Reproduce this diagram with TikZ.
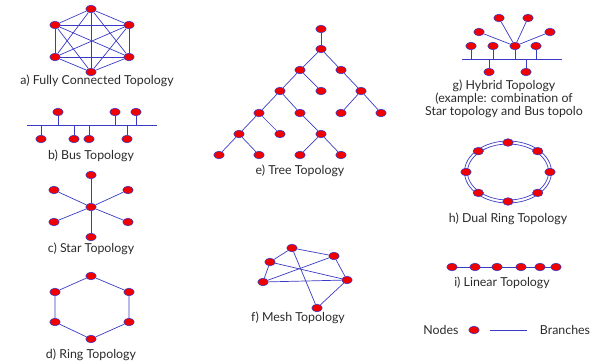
\documentclass[tikz,border=0pt]{standalone}
\usepackage{fontspec}
\setmainfont{Lato}
\usetikzlibrary{positioning,shapes.geometric}
\definecolor{wire}{HTML}{3A3AC4}
\definecolor{dotred}{HTML}{F00000}
\definecolor{txt}{HTML}{2A2A2A}
\tikzset{
  pc/.style     ={ellipse, draw=wire, fill=dotred, line width=0.4pt, inner sep=0pt,
                  minimum width=0.26cm, minimum height=0.19cm},
  link/.style   ={draw=wire, line width=0.5pt},
  caption/.style={font=\fontsize{8.8}{10}\selectfont, text=txt, inner sep=0pt},
}
\begin{document}
\begin{tikzpicture}[x=0.025cm, y=-0.025cm]
\useasboundingbox (0,0) rectangle (602,362);
% a) fully connected
\node[pc] (a1) at (91,9) {};
\node[pc] (a2) at (129,25) {};
\node[pc] (a3) at (129,57) {};
\node[pc] (a4) at (91,72) {};
\node[pc] (a5) at (55,57) {};
\node[pc] (a6) at (55,25) {};
\foreach \i/\j in {1/2,1/3,1/4,1/5,1/6,2/3,2/4,2/5,2/6,3/4,3/5,3/6,4/5,4/6,5/6}
  { \draw[link] (a\i) -- (a\j); }
\node[caption] (capa) at (97,81) {a) Fully Connected Topology};
% b) bus
\coordinate (bl) at (27,125);
\coordinate (br) at (157,125);
\draw[link] (bl) -- (br);
\node[pc] (b1) at (58,112) {};
\node[pc] (b2) at (115,112) {};
\node[pc] (b3) at (136,112) {};
\node[pc] (b4) at (41,139) {};
\node[pc] (b5) at (74,139) {};
\node[pc] (b6) at (89,139) {};
\node[pc] (b7) at (127,139) {};
\foreach \b in {b1,b2,b3,b4,b5,b6,b7} { \draw[link] (\b) -- (\b |- bl); }
\node[caption] (capb) at (91,156) {b) Bus Topology};
% c) star
\node[pc] (c0) at (91,207) {};
\node[pc] (c1) at (91,175) {};
\node[pc] (c2) at (128,190) {};
\node[pc] (c3) at (128,222) {};
\node[pc] (c4) at (91,237) {};
\node[pc] (c5) at (54,222) {};
\node[pc] (c6) at (54,190) {};
\foreach \c in {c1,c2,c3,c4,c5,c6} { \draw[link] (c0) -- (\c); }
\node[caption] (capc) at (91,249) {c) Star Topology};
% d) ring
\node[pc] (d1) at (91,276) {};
\node[pc] (d2) at (129,292) {};
\node[pc] (d3) at (129,322) {};
\node[pc] (d4) at (91,339) {};
\node[pc] (d5) at (55,322) {};
\node[pc] (d6) at (55,292) {};
\draw[link] (d1) -- (d2) -- (d3) -- (d4) -- (d5) -- (d6) -- (d1);
\node[caption] (capd) at (91,355) {d) Ring Topology};
% e) tree
\node[pc] (e0) at (321,29) {};
\node[pc] (e1) at (321,49) {};
\node[pc] (e2) at (300,70) {};
\node[pc] (e3) at (341,70) {};
\node[pc] (e4) at (280,91) {};
\node[pc] (e5) at (321,91) {};
\node[pc] (e6) at (361,91) {};
\node[pc] (e7) at (259,113) {};
\node[pc] (e8) at (300,113) {};
\node[pc] (e9) at (341,113) {};
\node[pc] (e10) at (381,113) {};
\node[pc] (e11) at (239,134) {};
\node[pc] (e12) at (280,134) {};
\node[pc] (e13) at (321,134) {};
\node[pc] (e14) at (219,155) {};
\node[pc] (e15) at (259,155) {};
\node[pc] (e16) at (300,155) {};
\node[pc] (e17) at (341,155) {};
\foreach \p/\q in {0/1,1/2,1/3,2/4,2/5,3/6,4/7,4/8,6/9,6/10,7/11,7/12,8/13,11/14,11/15,13/16,13/17}
  { \draw[link] (e\p) -- (e\q); }
\node[caption] (cape) at (300,171) {e) Tree Topology};
% f) mesh
\node[pc] (f1) at (292,248) {};
\node[pc] (f2) at (334,256) {};
\node[pc] (f3) at (270,262) {};
\node[pc] (f4) at (263,282) {};
\node[pc] (f5) at (347,280) {};
\node[pc] (f6) at (317,308) {};
\foreach \p/\q in {1/2,1/3,1/6,2/4,2/5,3/4,3/5,4/5,5/6}
  { \draw[link] (f\p) -- (f\q); }
\node[caption] (capf) at (298,318) {f) Mesh Topology};
% g) hybrid
\coordinate (gl) at (462,59);
\coordinate (gr) at (562,59);
\draw[link] (gl) -- (gr);
\node[pc] (g0) at (515,46) {};
\node[pc] (g1) at (499,18) {};
\node[pc] (g2) at (528,18) {};
\node[pc] (g3) at (479,32) {};
\node[pc] (g4) at (550,32) {};
\foreach \g in {g1,g2,g3,g4} { \draw[link] (g0) -- (\g); }
\node[pc] (g5) at (471,46) {};
\node[pc] (g6) at (493,46) {};
\node[pc] (g7) at (536,46) {};
\node[pc] (g8) at (489,72) {};
\node[pc] (g9) at (526,72) {};
\foreach \g in {g0,g5,g6,g7,g8,g9} { \draw[link] (\g) -- (\g |- gl); }
\node[caption, align=center, font=\fontsize{8.8}{7.3}\selectfont] (capg) at (504,99)
  {g) Hybrid Topology\\(example: combination of\\Star topology and Bus topolo};
% h) dual ring
\coordinate (hc) at (508,172);
\draw[link] (hc) ellipse [x radius=40.5, y radius=28];
\draw[link] (hc) ellipse [x radius=43.5, y radius=31];
\foreach \a [count=\i] in {0,45,...,315}
  { \node[pc] (h\i) at ([shift={(\a:42 and 29.5)}]hc) {}; }
\node[caption] (caph) at (508,219) {h) Dual Ring Topology};
% i) linear
\node[pc] (i1) at (452,267) {};
\node[pc] (i2) at (475,267) {};
\node[pc] (i3) at (497,267) {};
\node[pc] (i4) at (521,267) {};
\node[pc] (i5) at (540,267) {};
\node[pc] (i6) at (556,267) {};
\draw[link] (i1) -- (i2) -- (i3) -- (i4) -- (i5) -- (i6);
\node[caption] (capi) at (502,283) {i) Linear Topology};
% legend
\node[caption] (lgnodes) at (441,330) {Nodes};
\node[pc] (lgdot) at (474,330) {};
\coordinate (lgl) at (490,330);
\coordinate (lgr) at (527,330);
\draw[link] (lgl) -- (lgr);
\node[caption] (lgbranch) at (565,330) {Branches};
\end{tikzpicture}
\end{document}
